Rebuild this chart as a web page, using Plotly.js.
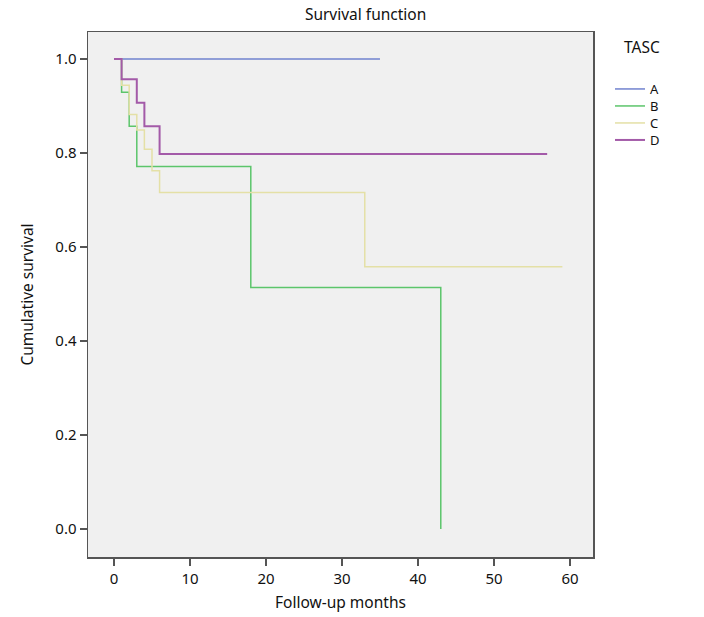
<!DOCTYPE html>
<html>
<head>
<meta charset="utf-8">
<script src="https://cdn.plot.ly/plotly-3.0.1.min.js"></script>
<style>html,body{margin:0;padding:0;background:#fff;}#chart{width:704px;height:617px;}</style>
</head>
<body>
<div id="chart"></div>
<script>
// Kaplan-Meier step data (months, cumulative survival)
const groupNames = ["A", "B", "C", "D"];
const timesA = [0, 35];
const survA  = [1.0, 1.0];
const timesB = [0, 1, 2, 3, 18, 43];
const survB  = [1.0, 0.929, 0.857, 0.771, 0.514, 0.0];
const timesC = [0, 1, 2, 3, 4, 5, 6, 33, 59];
const survC  = [1.0, 0.944, 0.882, 0.849, 0.808, 0.762, 0.716, 0.558, 0.558];
const timesD = [0, 1, 3, 4, 6, 57];
const survD  = [1.0, 0.957, 0.907, 0.857, 0.798, 0.798];
const xTicks = [0, 10, 20, 30, 40, 50, 60];
const yTicks = [0.0, 0.2, 0.4, 0.6, 0.8, 1.0];

const colors = ["#7183cf", "#5cc56b", "#e4e0a6", "#a35aa8"];
const widths = [1.5, 1.5, 1.5, 2.0];
const times = [timesA, timesB, timesC, timesD];
const survs = [survA, survB, survC, survD];

const font = "'Noto Sans', 'Open Sans', sans-serif";
const legendIds = ["legend", "legend2", "legend3", "legend4"];
const legendCenterPx = [89, 106, 123, 140];

const traces = groupNames.map((g, i) => ({
  x: times[i], y: survs[i], name: g, type: "scatter", mode: "lines",
  line: {shape: "hv", color: colors[i], width: widths[i]},
  legend: legendIds[i],
  hoverinfo: "x+y+name"
}));

const layout = {
  width: 704, height: 617,
  paper_bgcolor: "#ffffff", plot_bgcolor: "#f0f0f0",
  margin: {l: 88, r: 111, t: 32, b: 60, pad: 0},
  font: {family: font, size: 15, color: "#111"},
  title: {text: "Survival function", x: 387/704, xanchor: "center", xref: "paper", y: 1 - 15/617, yanchor: "middle", yref: "container", font: {family: font, size: 15.5, color: "#111"}},
  xaxis: {
    range: [-3.42, 63.03], tickvals: xTicks, ticktext: xTicks.map(String),
    showgrid: false, zeroline: false, showline: true, mirror: true, linecolor: "#555", linewidth: 1.5,
    ticks: "outside", ticklen: 7, tickwidth: 1.5, tickcolor: "#555",
    tickfont: {family: font, size: 15, color: "#111"},
    title: {text: "Follow-up months", font: {family: font, size: 15.5, color: "#111"}, standoff: 10},
    automargin: false
  },
  yaxis: {
    range: [-0.0596, 1.0574], tickvals: yTicks, ticktext: yTicks.map(v => v.toFixed(1)),
    showgrid: false, zeroline: false, showline: true, mirror: true, linecolor: "#555", linewidth: 1.5,
    ticks: "outside", ticklen: 7, tickwidth: 1.5, tickcolor: "#555",
    tickfont: {family: font, size: 15, color: "#111"},
    title: {text: "Cumulative survival", font: {family: font, size: 15.5, color: "#111"}, standoff: 18},
    automargin: false
  },
  showlegend: true,
  annotations: [{
    text: "TASC", xref: "paper", yref: "paper", x: (642 - 88) / 505, y: (557 - 47) / 525,
    xanchor: "center", yanchor: "middle", showarrow: false,
    font: {family: font, size: 15.5, color: "#111"}
  }]
};

legendIds.forEach((id, i) => {
  layout[id] = {
    x: (610 - 88) / 505, xanchor: "left", y: (557 - legendCenterPx[i]) / 525, yanchor: "middle",
    bgcolor: "rgba(0,0,0,0)", borderwidth: 0,
    font: {family: font, size: 13, color: "#111"},
    itemwidth: 30
  };
});

Plotly.newPlot("chart", traces, layout, {displayModeBar: false, staticPlot: true});
</script>
</body>
</html>
